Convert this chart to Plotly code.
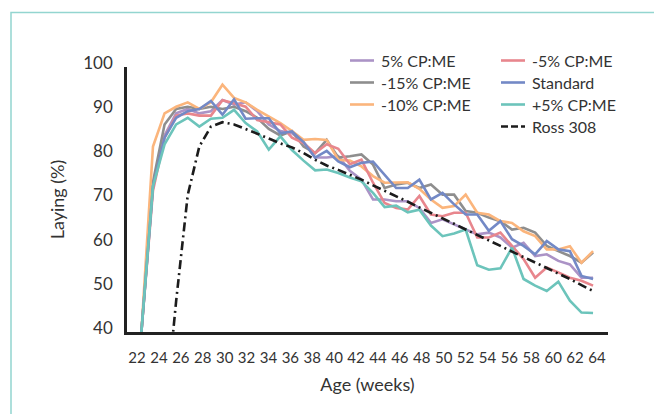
import plotly.graph_objects as go

# ---- data ----
sample_no = list(range(1, 41))          # successive laying records (40 points)
age_ticks = list(range(22, 65, 2))      # x-axis tick labels (weeks)
AGE_AT_FIRST_SAMPLE = 22.40             # age (weeks) at record 1
WEEKS_PER_SAMPLE = 1.0575               # spacing of records in weeks

cp_plus5_a = [40, 73, 84.5, 89.5, 90.5, 89.5, 90, 92.5, 91.5, 92, 90, 87, 85.5, 85, 83, 79.5, 79.5, 79.8, 76.5, 74.5,
              70.0, 70.0, 69.6, 69.6, 68.1, 64.7, 65.5, 64.4, 63.2, 62.1, 62.5, 61.4, 59.1, 60.2, 57.2, 57.6, 56.1, 55.3, 52.3, 52.3]
cp_minus5 = [40, 72, 84, 89, 89.5, 89, 89, 92.5, 91.8, 91, 88, 87.5, 87, 84, 82.8, 80.5, 82.5, 81.5, 78, 79,
             73.8, 69.2, 68.1, 67.7, 70.8, 66.6, 66.2, 67.0, 67.0, 61.4, 61.4, 62.5, 59.5, 56.5, 52.3, 54.6, 53.5, 52.3, 51.6, 50.5]
cp_minus15 = [40, 74, 87, 90.5, 91, 90.5, 91, 90.5, 91, 90, 88.5, 86, 84.5, 85.5, 82, 80.5, 83.5, 79.5, 79.8, 80.2,
              77.9, 72.6, 73.4, 73.8, 72.6, 73.4, 71.1, 71.1, 67.4, 67.0, 65.9, 65.1, 63.2, 63.6, 62.5, 59.5, 58.3, 57.2, 55.7, 58.0]
standard = [40, 73, 84, 88.5, 90, 90.5, 92.3, 89.2, 92.7, 88.3, 88.4, 88.4, 85, 85.4, 83, 79.5, 81, 78.6, 77.3, 78.3,
            78.6, 75.6, 72.6, 72.6, 74.5, 70.0, 71.5, 68.9, 66.6, 66.6, 62.9, 65.1, 61.0, 59.5, 57.6, 60.6, 58.7, 58.3, 52.7, 52.0]
cp_minus10 = [40, 82, 89.5, 91, 92, 90.5, 92, 96, 93, 92, 90.3, 88.8, 87.3, 85.5, 83.5, 83.7, 83.5, 79, 78.8, 77.5,
              75.3, 73.8, 73.8, 73.9, 72.4, 70.0, 68.1, 68.5, 71.1, 67.0, 66.6, 65.1, 64.7, 62.8, 61.7, 58.7, 58.7, 59.4, 55.7, 58.3]
cp_plus5_b = [40, 73, 82.5, 87, 88.5, 86.5, 88.3, 88.5, 90.3, 87.3, 85.4, 81.3, 84.3, 81.2, 78.8, 76.6, 76.8, 76, 75, 74.1,
              71.5, 68.3, 68.6, 67.1, 67.7, 64.1, 61.7, 62.3, 63.2, 55.1, 54.1, 54.4, 59.1, 52.0, 50.5, 49.3, 51.4, 47.1, 44.4, 44.3]
ross308 = [None, None, 20, 47, 71, 82, 86.5, 87.5, 87, 86, 84.9, 83.8, 82.7, 81.8, 80.5, 79, 77.7, 76.7, 75.6, 74.5,
           73.2, 72.0, 70.7, 69.5, 68.2, 67.0, 65.7, 64.5, 63.2, 62.0, 60.7, 59.5, 58.2, 57.0, 55.7, 54.5, 53.2, 52.0, 50.6, 49.3]

series = [
    ("5% CP:ME", cp_plus5_a, "#ab93c6"),
    ("-15% CP:ME", cp_minus15, "#8e8e8e"),
    ("-10% CP:ME", cp_minus10, "#fbb57c"),
    ("-5% CP:ME", cp_minus5, "#e8868d"),
    ("Standard", standard, "#7389c6"),
    ("+5% CP:ME", cp_plus5_b, "#6cc4bb"),
]
ross_color = "#1c1c1c"

FONT = "Lato"
TXT = "#333333"

OFF = 8                      # page body margin of the html page
W, H = 662 - OFF, 414 - OFF
ML, MR, MT, MB = 119, 54, 59, 82
PW, PH = W - ML - MR, H - MT - MB

# tick positions of the age labels expressed on the record axis
tick_pos = [1 + (a - AGE_AT_FIRST_SAMPLE) / WEEKS_PER_SAMPLE for a in age_ticks]

fig = go.Figure()
for name, vals, col in series:
    fig.add_trace(go.Scatter(x=sample_no, y=vals, mode="lines", name=name,
                             line=dict(color=col, width=2.6), showlegend=False))
fig.add_trace(go.Scatter(x=sample_no, y=ross308, mode="lines", name="Ross 308",
                         line=dict(color=ross_color, width=2.6, dash="9px,4px,2px,4px"),
                         showlegend=False))

# ---- manual legend (two columns) ----
def px2paper(px, py):
    return (px - OFF - ML) / PW, (H - MB - (py - OFF)) / PH

legend_items = [
    ("5% CP:ME", "#ab93c6", 350, 60.5, "solid"),
    ("-15% CP:ME", "#8e8e8e", 350, 82.5, "solid"),
    ("-10% CP:ME", "#fbb57c", 350, 104.5, "solid"),
    ("-5% CP:ME", "#e8868d", 501, 60.5, "solid"),
    ("Standard", "#7389c6", 501, 82.5, "solid"),
    ("+5% CP:ME", "#6cc4bb", 501, 104.5, "solid"),
    ("Ross 308", ross_color, 501, 126.5, "7px,3px"),
]
shapes = []
annotations = []
for label, col, sx, sy, dash in legend_items:
    x0, y0 = px2paper(sx, sy)
    x1, _ = px2paper(sx + 24, sy)
    shapes.append(dict(type="line", xref="paper", yref="paper", x0=x0, x1=x1, y0=y0, y1=y0,
                       line=dict(color=col, width=2.6, dash=dash)))
    tx, _ = px2paper(sx + 29, sy)
    annotations.append(dict(text=label, x=tx, y=y0, xref="paper", yref="paper", showarrow=False,
                            xanchor="left", yanchor="middle", font=dict(family=FONT, size=16, color=TXT)))

# border frame (cut by the image edges on the right and bottom)
bx0, by0 = px2paper(11, 12.5)
bx1, by1 = px2paper(700, 440)
shapes.append(dict(type="rect", xref="paper", yref="paper", x0=bx0, y0=by1, x1=bx1, y1=by0,
                   line=dict(color="#93d5d0", width=1.5), layer="below"))

fig.update_layout(
    width=W, height=H, autosize=False,
    margin=dict(l=ML, r=MR, t=MT, b=MB),
    paper_bgcolor="white", plot_bgcolor="white",
    font=dict(family=FONT, color=TXT),
    showlegend=False,
    shapes=shapes, annotations=annotations,
    xaxis=dict(range=[-0.2435, 41.29], tickmode="array", tickvals=tick_pos,
               ticktext=[str(t) for t in age_ticks], showgrid=False, zeroline=False,
               showline=True, linecolor="#222222", linewidth=2.6, ticks="",
               tickfont=dict(family=FONT, size=15, color=TXT), ticklabelstandoff=10,
               title=dict(text="Age (weeks)", font=dict(family=FONT, size=18, color=TXT), standoff=14)),
    yaxis=dict(range=[40, 100], tickmode="array", tickvals=list(range(40, 101, 10)),
               showgrid=False, zeroline=False, showline=True, linecolor="#222222", linewidth=2.6,
               ticks="", tickfont=dict(family=FONT, size=17, color=TXT), ticklabelshift=-4,
               ticklabelstandoff=8,
               title=dict(text="Laying (%)", font=dict(family=FONT, size=18, color=TXT), standoff=14)),
)

fig.write_html("out.html")
